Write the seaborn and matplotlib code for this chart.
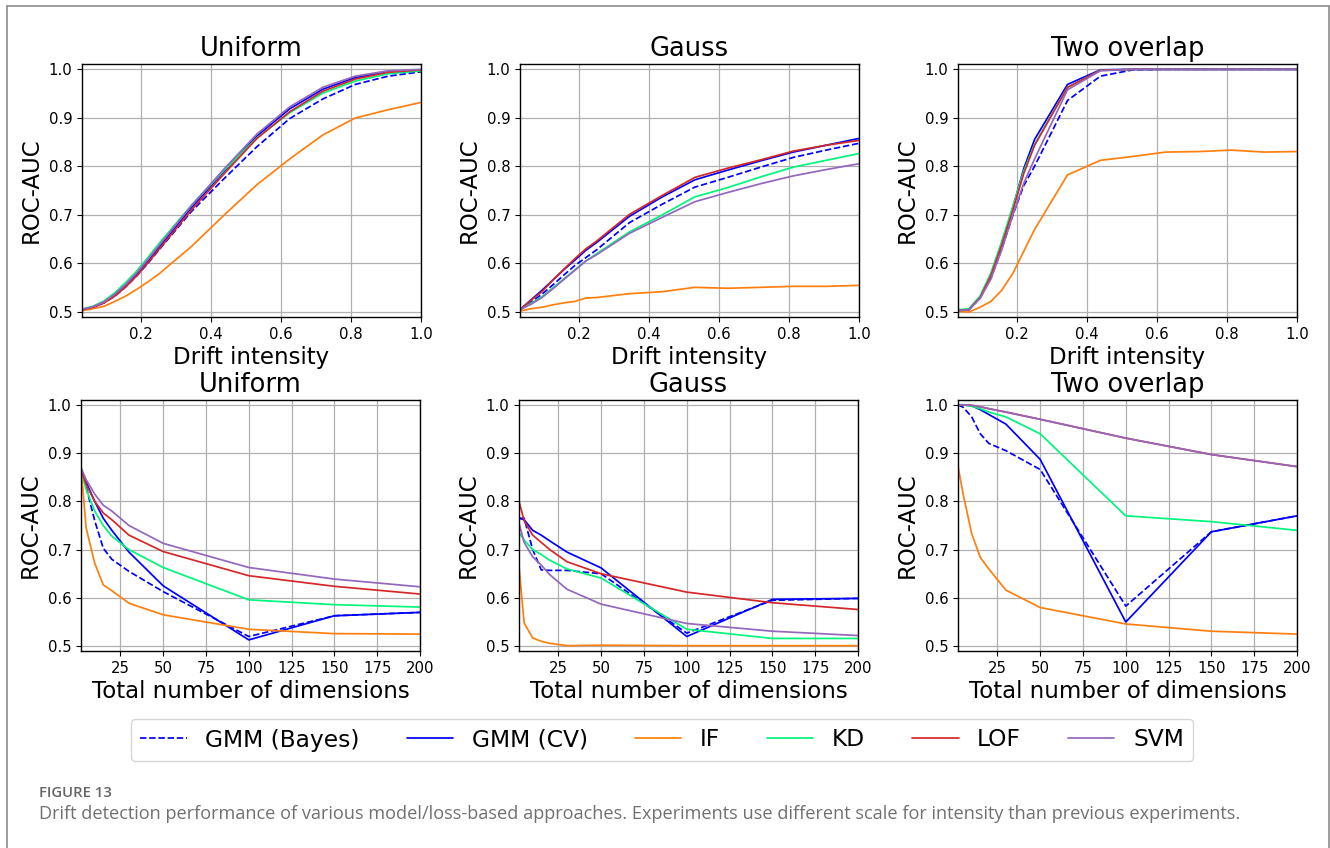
import numpy as np
import pandas as pd
import matplotlib
matplotlib.use("Agg")
import matplotlib.pyplot as plt
from matplotlib.lines import Line2D
import seaborn as sns

# ---------------- data ----------------
methods = ["GMM (Bayes)", "GMM (CV)", "IF", "KD", "LOF", "SVM"]
colors = ["#0000ff", "#0000ff", "#ff7f0e", "#00f57a", "#d62728", "#9467bd"]

drift_x = [0.031, 0.062, 0.094, 0.125, 0.156, 0.188, 0.219, 0.25,
           0.344, 0.438, 0.531, 0.625, 0.719, 0.812, 0.906, 1.0]
dims_x = [2, 5, 10, 15, 20, 30, 50, 100, 150, 200]

# Top row: ROC-AUC vs drift intensity
uni_drift = {
    "GMM (Bayes)": [0.505, 0.510, 0.519, 0.533, 0.552, 0.575, 0.600, 0.627, 0.707, 0.775, 0.840, 0.898, 0.938, 0.968, 0.985, 0.994],
    "GMM (CV)":    [0.505, 0.510, 0.520, 0.535, 0.555, 0.578, 0.605, 0.632, 0.715, 0.790, 0.862, 0.918, 0.958, 0.982, 0.994, 0.998],
    "IF":          [0.503, 0.507, 0.512, 0.522, 0.533, 0.547, 0.562, 0.578, 0.635, 0.700, 0.762, 0.815, 0.864, 0.899, 0.916, 0.931],
    "KD":          [0.506, 0.512, 0.523, 0.540, 0.561, 0.585, 0.612, 0.640, 0.720, 0.792, 0.858, 0.910, 0.950, 0.975, 0.990, 0.996],
    "LOF":         [0.505, 0.510, 0.519, 0.533, 0.552, 0.575, 0.601, 0.628, 0.710, 0.785, 0.857, 0.912, 0.954, 0.979, 0.993, 0.998],
    "SVM":         [0.506, 0.511, 0.521, 0.537, 0.557, 0.581, 0.608, 0.636, 0.719, 0.795, 0.866, 0.922, 0.962, 0.985, 0.996, 0.999],
}
gauss_drift = {
    "GMM (Bayes)": [0.505, 0.520, 0.537, 0.556, 0.576, 0.596, 0.612, 0.628, 0.684, 0.722, 0.757, 0.777, 0.798, 0.818, 0.833, 0.847],
    "GMM (CV)":    [0.505, 0.525, 0.545, 0.566, 0.587, 0.607, 0.627, 0.643, 0.697, 0.737, 0.772, 0.792, 0.811, 0.829, 0.843, 0.857],
    "IF":          [0.502, 0.507, 0.510, 0.515, 0.519, 0.522, 0.529, 0.530, 0.538, 0.542, 0.551, 0.549, 0.551, 0.553, 0.553, 0.555],
    "KD":          [0.505, 0.518, 0.532, 0.550, 0.568, 0.587, 0.605, 0.620, 0.665, 0.700, 0.737, 0.756, 0.778, 0.798, 0.812, 0.826],
    "LOF":         [0.505, 0.524, 0.542, 0.566, 0.588, 0.610, 0.630, 0.646, 0.701, 0.740, 0.777, 0.796, 0.813, 0.831, 0.843, 0.853],
    "SVM":         [0.505, 0.516, 0.530, 0.548, 0.567, 0.586, 0.605, 0.618, 0.662, 0.695, 0.727, 0.746, 0.764, 0.780, 0.793, 0.805],
}
two_drift = {
    "GMM (Bayes)": [0.503, 0.505, 0.529, 0.570, 0.630, 0.700, 0.760, 0.800, 0.935, 0.985, 0.998, 0.999, 0.999, 0.999, 0.999, 0.999],
    "GMM (CV)":    [0.503, 0.505, 0.530, 0.578, 0.642, 0.715, 0.795, 0.855, 0.968, 0.998, 0.999, 0.999, 0.999, 0.999, 0.999, 0.999],
    "IF":          [0.502, 0.500, 0.510, 0.522, 0.545, 0.580, 0.625, 0.670, 0.782, 0.812, 0.820, 0.829, 0.830, 0.833, 0.829, 0.830],
    "KD":          [0.505, 0.507, 0.533, 0.580, 0.645, 0.718, 0.790, 0.845, 0.962, 0.997, 0.999, 0.999, 0.999, 0.999, 0.999, 0.999],
    "LOF":         [0.503, 0.505, 0.530, 0.575, 0.638, 0.710, 0.785, 0.843, 0.962, 0.997, 0.999, 0.999, 0.999, 0.999, 0.999, 0.999],
    "SVM":         [0.503, 0.505, 0.528, 0.568, 0.628, 0.700, 0.765, 0.815, 0.957, 0.996, 0.999, 0.999, 0.999, 0.999, 0.999, 0.999],
}

# Bottom row: ROC-AUC vs total number of dimensions
uni_dims = {
    "GMM (Bayes)": [0.866, 0.830, 0.760, 0.703, 0.680, 0.655, 0.613, 0.520, 0.563, 0.570],
    "GMM (CV)":    [0.868, 0.840, 0.800, 0.765, 0.740, 0.695, 0.625, 0.513, 0.563, 0.570],
    "IF":          [0.870, 0.745, 0.672, 0.627, 0.615, 0.589, 0.565, 0.535, 0.526, 0.525],
    "KD":          [0.865, 0.825, 0.780, 0.750, 0.728, 0.700, 0.663, 0.596, 0.586, 0.581],
    "LOF":         [0.865, 0.835, 0.800, 0.776, 0.762, 0.730, 0.696, 0.646, 0.624, 0.608],
    "SVM":         [0.870, 0.845, 0.815, 0.792, 0.780, 0.750, 0.713, 0.663, 0.639, 0.623],
}
gauss_dims = {
    "GMM (Bayes)": [0.765, 0.765, 0.700, 0.658, 0.657, 0.657, 0.650, 0.527, 0.595, 0.599],
    "GMM (CV)":    [0.765, 0.762, 0.740, 0.730, 0.718, 0.695, 0.662, 0.520, 0.597, 0.599],
    "IF":          [0.665, 0.548, 0.517, 0.510, 0.506, 0.501, 0.502, 0.501, 0.501, 0.501],
    "KD":          [0.735, 0.720, 0.700, 0.690, 0.678, 0.660, 0.641, 0.535, 0.516, 0.516],
    "LOF":         [0.800, 0.760, 0.730, 0.715, 0.700, 0.675, 0.650, 0.612, 0.590, 0.576],
    "SVM":         [0.755, 0.715, 0.685, 0.668, 0.648, 0.618, 0.587, 0.547, 0.531, 0.522],
}
two_dims = {
    "GMM (Bayes)": [1.000, 0.995, 0.975, 0.940, 0.920, 0.905, 0.866, 0.583, 0.737, 0.770],
    "GMM (CV)":    [1.000, 1.000, 0.998, 0.990, 0.980, 0.960, 0.887, 0.550, 0.737, 0.770],
    "IF":          [0.873, 0.815, 0.733, 0.684, 0.660, 0.616, 0.580, 0.546, 0.531, 0.525],
    "KD":          [1.000, 1.000, 0.997, 0.992, 0.985, 0.975, 0.940, 0.770, 0.758, 0.740],
    "LOF":         [1.000, 1.000, 0.999, 0.996, 0.992, 0.985, 0.970, 0.931, 0.897, 0.872],
    "SVM":         [1.000, 1.000, 0.999, 0.996, 0.992, 0.985, 0.970, 0.931, 0.897, 0.872],
}

titles = ["Uniform", "Gauss", "Two overlap"]
top_data = [uni_drift, gauss_drift, two_drift]
bottom_data = [uni_dims, gauss_dims, two_dims]
caption_label = "FIGURE 13"
caption_text = ("Drift detection performance of various model/loss-based approaches. "
                "Experiments use different scale for intensity than previous experiments.")

# ---------------- plotting ----------------
sns.set_style("ticks", rc={
    "text.color": "black", "axes.labelcolor": "black",
    "xtick.color": "black", "ytick.color": "black",
    "axes.edgecolor": "black",
})
plt.rcParams["font.family"] = ["DejaVu Sans"]

palette = dict(zip(methods, colors))
dashes = {m: ((3.7, 1.6) if m == "GMM (Bayes)" else "") for m in methods}


def to_long(x, d):
    rows = []
    for m in methods:
        for xv, yv in zip(x, d[m]):
            rows.append({"x": xv, "y": yv, "method": m})
    return pd.DataFrame(rows)


fig = plt.figure(figsize=(13.3, 8.48), dpi=100)
W, H = 1330.0, 848.0

top_lefts = [82, 520, 958]
bot_lefts = [81, 519, 958]
ax_w = 339
top_y0, top_y1 = 64, 317
bot_y0, bot_y1 = 400, 651


def make_ax(left_px, y0, y1):
    return fig.add_axes([left_px / W, 1 - y1 / H, ax_w / W, (y1 - y0) / H])


def style_ax(ax, title, xlabel):
    ax.set_title(title, fontsize=18.5, pad=6, color="black")
    ax.set_xlabel(xlabel, fontsize=16.5, labelpad=3, color="black")
    ax.set_ylabel("ROC-AUC", fontsize=16.5, labelpad=4, color="black")
    ax.set_ylim(0.49, 1.01)
    ax.set_yticks([0.5, 0.6, 0.7, 0.8, 0.9, 1.0])
    ax.tick_params(labelsize=10.7, length=3.5, width=0.8, direction="out",
                   colors="black")
    ax.grid(True, color="#b0b0b0", linewidth=0.9)
    for s in ax.spines.values():
        s.set_visible(True)
        s.set_color("black")
        s.set_linewidth(1.0)
    if ax.get_legend() is not None:
        ax.get_legend().remove()


for i in range(3):
    ax = make_ax(top_lefts[i], top_y0, top_y1)
    df = to_long(drift_x, top_data[i])
    sns.lineplot(data=df, x="x", y="y", hue="method", style="method",
                 hue_order=methods, style_order=methods, palette=palette,
                 dashes=dashes, linewidth=1.25, ax=ax, legend=(i == 0))
    if i == 0:
        handles, labels = ax.get_legend_handles_labels()
    ax.set_xlim(drift_x[0], drift_x[-1])
    ax.set_xticks([0.2, 0.4, 0.6, 0.8, 1.0])
    style_ax(ax, titles[i], "Drift intensity")

for i in range(3):
    ax = make_ax(bot_lefts[i], bot_y0, bot_y1)
    df = to_long(dims_x, bottom_data[i])
    sns.lineplot(data=df, x="x", y="y", hue="method", style="method",
                 hue_order=methods, style_order=methods, palette=palette,
                 dashes=dashes, linewidth=1.25, ax=ax, legend=False)
    ax.set_xlim(dims_x[0], dims_x[-1])
    ax.set_xticks([25, 50, 75, 100, 125, 150, 175, 200])
    style_ax(ax, titles[i], "Total number of dimensions")

leg = fig.legend(handles, labels, loc="center", ncol=6,
                 bbox_to_anchor=(662 / W, 1 - 740 / H), fontsize=16.8,
                 frameon=True, handlelength=2.0, columnspacing=2.0)
leg.get_frame().set_edgecolor("#cccccc")
for t in leg.get_texts():
    t.set_color("black")
for h in leg.legend_handles:
    h.set_linewidth(1.25)

# caption
fig.text(39 / W, 1 - 793 / H, caption_label, fontsize=10.7, color="#666666",
         family=["Open Sans", "DejaVu Sans"], fontweight="semibold", va="center")
fig.text(39 / W, 1 - 814 / H, caption_text, fontsize=13.1, color="#707070",
         family=["Open Sans", "DejaVu Sans"], va="center")

# outer frame (left, top, right)
bc = "#8c8c8c"
fig.add_artist(Line2D([6.5 / W, 6.5 / W], [0, 1 - 5.5 / H], transform=fig.transFigure, color=bc, lw=1.2))
fig.add_artist(Line2D([6.5 / W, 1328.5 / W], [1 - 5.5 / H, 1 - 5.5 / H], transform=fig.transFigure, color=bc, lw=1.2))
fig.add_artist(Line2D([1328.5 / W, 1328.5 / W], [0, 1 - 5.5 / H], transform=fig.transFigure, color=bc, lw=1.2))

fig.savefig("out.png", dpi=100)
